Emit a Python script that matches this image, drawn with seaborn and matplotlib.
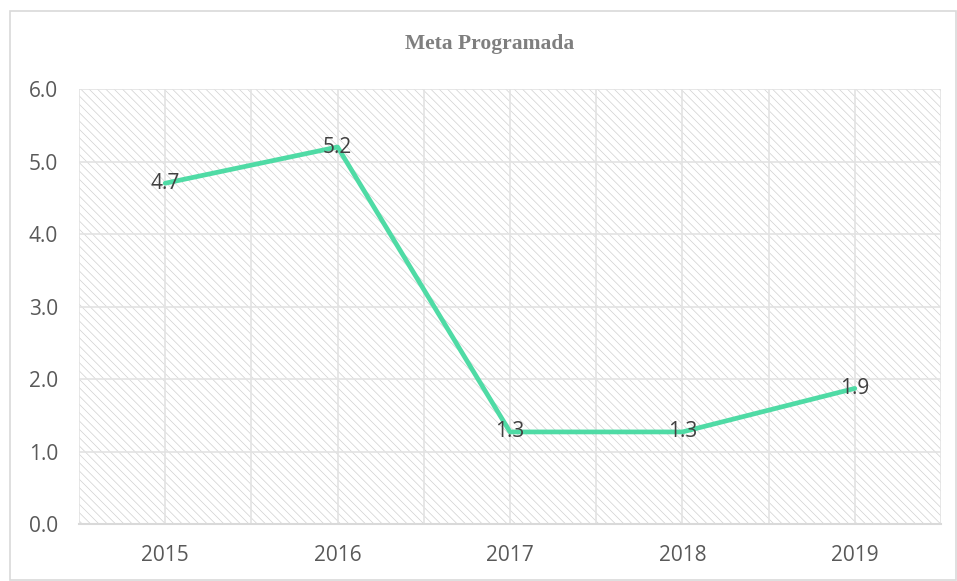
import matplotlib
matplotlib.use("Agg")
import matplotlib.pyplot as plt
import seaborn as sns
import pandas as pd
from matplotlib.patches import Rectangle

# --- data ---
years = ["2015", "2016", "2017", "2018", "2019"]
meta = [4.7, 5.2, 1.27, 1.27, 1.87]
y_ticks = [0, 1, 2, 3, 4, 5, 6]

df = pd.DataFrame({"year": years, "meta": meta})

sns.set_theme(style="white")
plt.rcParams['font.family'] = ['Open Sans', 'DejaVu Sans']
plt.rcParams['hatch.linewidth'] = 0.5

fig = plt.figure(figsize=(9.57, 5.81), dpi=100)
ax = fig.add_axes([0.0825, 0.0981, 0.9008, 0.7487])

# outer chart border
fig.patches.append(Rectangle((10 / 957, 1 / 581), 946 / 957, 569 / 581,
                             transform=fig.transFigure, fill=False,
                             edgecolor="#d9d9d9", linewidth=1.2))

# hatched plot background (fine light diagonal stripes)
ax.add_patch(Rectangle((0, 0), 1, 1, transform=ax.transAxes, facecolor="white",
                       edgecolor="#d0d0d0", hatch="\\" * 4, linewidth=0, zorder=0))

sns.lineplot(data=df, x="year", y="meta", ax=ax, color="#4fdba5",
             linewidth=3.4, sort=False, zorder=3)

ax.set_xlim(-0.5, len(years) - 0.5)
ax.set_ylim(0, 6)
ax.set_yticks(y_ticks)
ax.set_yticklabels([f"{v:.1f}" for v in y_ticks])

# grid lines: horizontal at ticks, vertical at centers and boundaries
for v in y_ticks[1:]:
    ax.axhline(v, color="#e3e3e3", linewidth=1.2, zorder=1)
for i in range(2 * len(years) + 1):
    ax.axvline(-0.5 + i * 0.5, color="#e3e3e3", linewidth=1.2, zorder=1)

for s in ["top", "right", "left"]:
    ax.spines[s].set_visible(False)
ax.spines["bottom"].set_color("#d9d9d9")
ax.spines["bottom"].set_linewidth(1.5)
ax.spines["bottom"].set_zorder(4)

ax.tick_params(axis="both", length=0, labelsize=15, colors="#595959")
ax.tick_params(axis="x", pad=15)
ax.tick_params(axis="y", pad=15)
ax.set_xlabel("")
ax.set_ylabel("")

for i, v in enumerate(meta):
    ax.text(i, v, f"{v:.1f}", ha="center", va="center", fontsize=15,
            color="#404040", zorder=5)

fig.text(490 / 957, 1 - 44 / 581, "Meta Programada", ha="center", va="center",
         fontsize=15.5, fontweight="bold", color="#7f7f7f",
         family=["Liberation Serif", "DejaVu Serif"])

fig.savefig("out.png", dpi=100)
